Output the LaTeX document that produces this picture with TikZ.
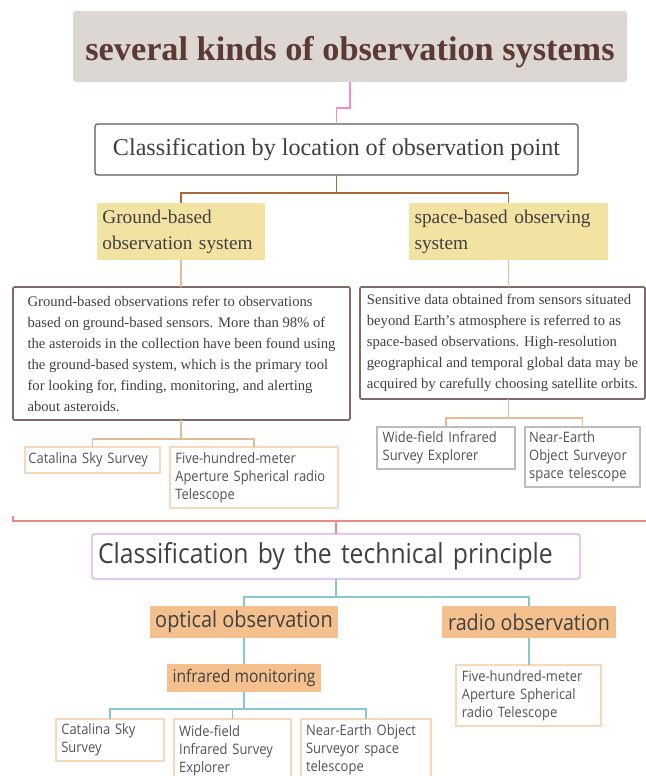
\documentclass[tikz,border=0pt]{standalone}
\usepackage{fontspec}
\setmainfont{Liberation Serif}
\newfontfamily\uisans[FakeStretch=0.9]{Open Sans}

\definecolor{titlefill}{HTML}{DDD7D4}
\definecolor{titletext}{HTML}{5A3A32}
\definecolor{darktext}{HTML}{404040}
\definecolor{yellowfill}{HTML}{F3E3A3}
\definecolor{orangefill}{HTML}{F4C08E}
\definecolor{pinkline}{HTML}{F08CC8}
\definecolor{brownline}{HTML}{A86A38}
\definecolor{tanline}{HTML}{E3BC96}
\definecolor{boxframe}{HTML}{7E6A66}
\definecolor{childframe}{HTML}{F8D8BA}
\definecolor{grayframe}{HTML}{BDBDBD}
\definecolor{redline}{HTML}{EA8A8A}
\definecolor{purpleframe}{HTML}{D9A9EA}
\definecolor{cyanline}{HTML}{86C8D2}

\begin{document}
\begin{tikzpicture}[x=0.75pt, y=-0.75pt,
  every node/.style={anchor=north west, inner sep=0pt, outer sep=0pt},
  topic/.style={fill=yellowfill, align=left, font=\fontsize{14.5}{19.5}\selectfont, text=darktext},
  tagbox/.style={fill=orangefill, align=center, text=darktext},
  textbox/.style={draw=boxframe, line width=1.4pt, rounded corners=1pt, fill=white, align=left,
    font=\fontsize{11}{15.75}\selectfont, text=darktext},
  leaf/.style={draw=childframe, line width=0.8pt, fill=white, align=left,
    font=\uisans\fontsize{10.8}{13.5}\selectfont, text=darktext!90},
  grayleaf/.style={leaf, draw=grayframe},
  link/.style={line width=1pt}]

%%% clip to the page
\path[use as bounding box] (0,0) rectangle (646,776);
\clip (0,0) rectangle (646,776);

%%% nodes

% title and first classification
\node [fill=titlefill, rounded corners=2pt, minimum width=415.5pt, minimum height=53.25pt,
  text height=20.5pt, text depth=0pt, font=\bfseries\fontsize{25.7}{28}\selectfont, text=titletext] (title) at (73,11)
  {several kinds of observation systems};
\node [draw=black!65, line width=0.9pt, rounded corners=2pt, fill=white, minimum width=362.25pt,
  minimum height=38.25pt, font=\fontsize{18.1}{20}\selectfont, text=darktext] (loc) at (95,124)
  {Classification by location of observation point};

% ground and space systems
\node [topic, minimum width=126pt, minimum height=42.75pt, text width=118pt] (ground) at (97,203)
  {Ground-based\\observation system};
\node [topic, minimum width=149.25pt, minimum height=42.75pt, text width=141pt] (space) at (409,203)
  {space-based observing\\system};

% descriptions
\node [textbox, minimum width=252.75pt, minimum height=99.75pt] (gtxt) at (13,287)
  {Ground-based observations refer to observations\\
   based on ground-based sensors. More than 98\% of\\
   the asteroids in the collection have been found using\\
   the ground-based system, which is the primary tool\\
   for looking for, finding, monitoring, and alerting\\
   about asteroids.};
\node [textbox, minimum width=213.75pt, minimum height=84pt] (stxt) at (360,287)
  {Sensitive data obtained from sensors situated\\
   beyond Earth's atmosphere is referred to as\\
   space-based observations. High-resolution\\
   geographical and temporal global data may be\\
   acquired by carefully choosing satellite orbits.};

% telescopes by location
\node [leaf, minimum width=101.25pt, minimum height=19.5pt, text width=96pt] (cat1) at (25,447)
  {Catalina Sky Survey};
\node [leaf, minimum width=126pt, minimum height=45.75pt, text width=118pt] (fast1) at (170,447)
  {Five-hundred-meter\\Aperture Spherical radio\\Telescope};
\node [grayleaf, minimum width=103.5pt, minimum height=31.5pt, text width=95pt] (wise1) at (377,427)
  {Wide-field Infrared\\Survey Explorer};
\node [grayleaf, minimum width=86.25pt, minimum height=45pt, text width=80pt] (neo1) at (525,427)
  {Near-Earth\\Object Surveyor\\space telescope};

% second classification
\coordinate (bl) at (13,516);
\coordinate (br) at (660,521);
\node [draw=purpleframe, line width=0.9pt, rounded corners=2pt, fill=white, minimum height=33.75pt,
  inner xsep=4.5pt, text width=357pt, align=left,
  font=\uisans\fontsize{20.6}{24}\selectfont, text=darktext] (tech) at (92,534)
  {Classification by the technical principle};

% optical and radio
\node [tagbox, minimum width=141pt, minimum height=24pt, font=\uisans\fontsize{16.6}{18}\selectfont] (opt) at (150,606)
  {optical observation};
\node [tagbox, minimum width=130.5pt, minimum height=24pt, font=\uisans\fontsize{16.4}{18}\selectfont] (radio) at (442,606)
  {radio observation};
\node [tagbox, minimum width=115.5pt, minimum height=21pt, font=\uisans\fontsize{13}{14}\selectfont] (ir) at (167,664)
  {infrared monitoring};

% telescopes by principle
\node [leaf, minimum width=81pt, minimum height=31.5pt, text width=73pt] (cat2) at (56,719)
  {Catalina Sky\\Survey};
\node [leaf, minimum width=87.75pt, inner ysep=4.5pt, text width=80pt] (wise2) at (174,719)
  {Wide-field\\Infrared Survey\\Explorer};
\node [leaf, minimum width=97.5pt, inner ysep=4.5pt, text width=90pt] (neo2) at (301,719)
  {Near-Earth Object\\Surveyor space\\telescope};
\node [leaf, minimum width=108.75pt, minimum height=45.75pt, text width=100pt] (fast2) at (456,665)
  {Five-hundred-meter\\Aperture Spherical\\radio Telescope};

%%% edges

% title
\draw [link, pinkline] (title.south) -- ++(0,26) -| (loc.north);

% location
\draw [link, brownline] (loc.south) -- ++(0,18) -| (ground.north);
\draw [link, brownline] (loc.south) -- ++(0,18) -| (space.north);
\draw [link, tanline] (ground.south) -- (gtxt.north -| ground.south);
\draw [link, tanline] (space.south) -- (stxt.north -| space.south);
\draw [link, tanline] (gtxt.south -| ground.south) -- ++(0,19) -| (cat1.north);
\draw [link, tanline] (gtxt.south -| ground.south) -- ++(0,19) -| (fast1.north);
\draw [link, tanline] (stxt.south -| space.south) -- ++(0,19) -| (wise1.north);
\draw [link, tanline] (stxt.south -| space.south) -- ++(0,19) -| (neo1.north);

% bracket to second classification
\draw [link, redline] (bl) |- (br);
\draw [link, redline] (bl |- br) -| (tech.north);

% principle
\draw [link, cyanline] (tech.south) -- ++(0,18) -| (opt.north);
\draw [link, cyanline] (tech.south) -- ++(0,18) -| (radio.north);
\draw [link, cyanline] (opt.south) -- (ir.north);
\draw [link, cyanline] (radio.south) -- (fast2.north -| radio.south);
\draw [link, cyanline] (ir.south) -- ++(0,17) -| (cat2.north);
\draw [link, cyanline] (ir.south) -- ++(0,17) -| (wise2.north);
\draw [link, cyanline] (ir.south) -- ++(0,17) -| (neo2.north);
\end{tikzpicture}
\end{document}
